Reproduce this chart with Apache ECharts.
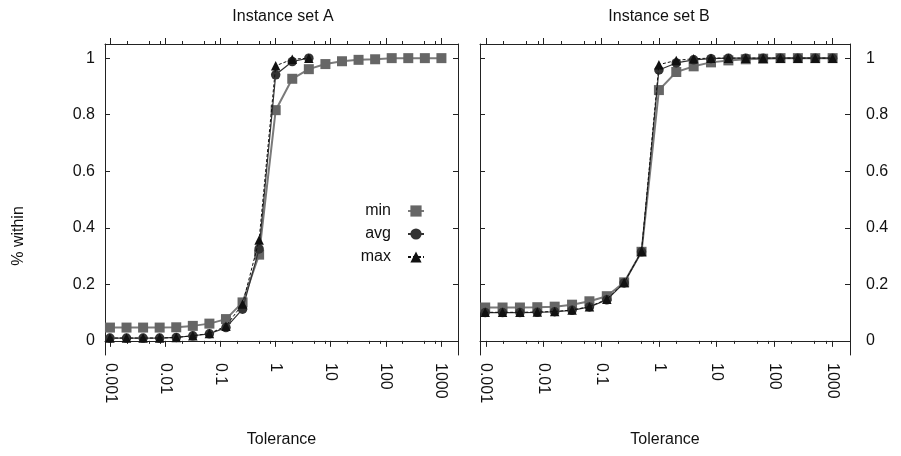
<!DOCTYPE html>
<html><head><meta charset="utf-8">
<script src="https://cdn.jsdelivr.net/npm/echarts@6/dist/echarts.min.js"></script>
<style>html,body{margin:0;padding:0;background:#fff}#c{width:901px;height:456px}</style>
</head><body><div id="c"></div><script>
// Tolerance values (powers of two)
const tolerance = [0.0009765625, 0.001953125, 0.00390625, 0.0078125, 0.015625, 0.03125, 0.0625, 0.125, 0.25, 0.5, 1, 2, 4, 8, 16, 32, 64, 128, 256, 512, 1024];
const xMajorTicks = [0.001, 0.01, 0.1, 1, 10, 100, 1000];
const xMinorTicks = [0.002, 0.005, 0.008, 0.02, 0.05, 0.08, 0.2, 0.5, 0.8, 2, 5, 8, 20, 50, 80, 200, 500, 800];
const yTicks = [0, 0.2, 0.4, 0.6, 0.8, 1];
const titles = ['Instance set A', 'Instance set B'];
const seriesNames = ['min', 'avg', 'max'];

// Instance set A
const aMin = [0.047, 0.047, 0.047, 0.047, 0.048, 0.053, 0.061, 0.077, 0.136, 0.305, 0.816, 0.927, 0.961, 0.979, 0.989, 0.994, 0.996, 1.0, 1.0, 1.0, 1.0];
const aAvg = [0.010, 0.010, 0.010, 0.010, 0.012, 0.018, 0.025, 0.047, 0.112, 0.325, 0.941, 0.988, 1.0];
const aMax = [0.010, 0.010, 0.010, 0.010, 0.012, 0.018, 0.026, 0.052, 0.130, 0.357, 0.973, 0.996, 1.0];
// Instance set B
const bMin = [0.118, 0.118, 0.118, 0.119, 0.121, 0.128, 0.140, 0.158, 0.207, 0.315, 0.887, 0.951, 0.971, 0.985, 0.992, 0.996, 0.998, 1.0, 1.0, 1.0, 1.0];
const bAvg = [0.100, 0.100, 0.100, 0.101, 0.103, 0.108, 0.120, 0.145, 0.205, 0.315, 0.958, 0.983, 0.994, 0.998, 1.0, 1.0, 1.0, 1.0, 1.0, 1.0, 1.0];
const bMax = [0.101, 0.101, 0.101, 0.102, 0.104, 0.109, 0.121, 0.147, 0.206, 0.317, 0.977, 0.992, 0.998, 1.0, 1.0, 1.0, 1.0, 1.0, 1.0, 1.0, 1.0];

const FONT = 'Liberation Sans, Arial, Helvetica, sans-serif';
const FS = 16;
const XMIN = 0.000794, XMAX = 2048;
const frameColor = '#222';

function pairs(vals) { return vals.map((v, i) => [tolerance[i], v]); }
function fmtX(v) {
  const m = {0.001:'0.001',0.01:'0.01',0.1:'0.1',1:'1',10:'10',100:'100',1000:'1000'};
  const r = Number(Number(v).toPrecision(6));
  return m[r] !== undefined ? m[r] : '';
}

const grids = [
  { left: 105, top: 44, width: 353, height: 311 },
  { left: 480, top: 44, width: 370, height: 311 }
];

const xAxes = [], yAxes = [];
grids.forEach((g, gi) => {
  const base = { gridIndex: gi, type: 'log', logBase: 10, min: XMIN, max: XMAX, splitLine: { show: false }, axisPointer: { show: false } };
  xAxes.push(Object.assign({}, base, {
    position: 'bottom',
    axisLine: { show: true, lineStyle: { color: frameColor, width: 1 } },
    axisTick: { show: true, inside: false, length: 6, customValues: xMajorTicks, lineStyle: { color: frameColor } },
    axisLabel: { show: true, customValues: xMajorTicks, rotate: -90, margin: 8, fontSize: FS, color: '#111', fontFamily: FONT, formatter: fmtX, hideOverlap: false },
    name: 'Tolerance', nameLocation: 'middle', nameGap: 77,
    nameTextStyle: { fontSize: FS, color: '#111', fontFamily: FONT }
  }));
  xAxes.push(Object.assign({}, base, {
    position: 'bottom',
    axisLine: { show: false },
    axisTick: { show: true, inside: false, length: 3, customValues: xMinorTicks, lineStyle: { color: frameColor } },
    axisLabel: { show: false }
  }));
  xAxes.push(Object.assign({}, base, {
    position: 'top',
    axisLine: { show: true, lineStyle: { color: frameColor, width: 1 } },
    axisTick: { show: true, inside: false, length: 6, customValues: xMajorTicks, lineStyle: { color: frameColor } },
    axisLabel: { show: false }
  }));
  xAxes.push(Object.assign({}, base, {
    position: 'top',
    axisLine: { show: false },
    axisTick: { show: true, inside: false, length: 3, customValues: xMinorTicks, lineStyle: { color: frameColor } },
    axisLabel: { show: false }
  }));

  const ybase = { gridIndex: gi, type: 'value', min: -0.05, max: 1.05, splitLine: { show: false }, axisPointer: { show: false } };
  yAxes.push(Object.assign({}, ybase, {
    position: 'left',
    axisLine: { show: true, lineStyle: { color: frameColor, width: 1 } },
    axisTick: { show: true, inside: true, length: 5, customValues: yTicks, lineStyle: { color: frameColor } },
    axisLabel: { show: gi === 0, customValues: yTicks, margin: 10, fontSize: FS, color: '#111', fontFamily: FONT }
  }));
  yAxes.push(Object.assign({}, ybase, {
    position: 'right',
    axisLine: { show: true, lineStyle: { color: frameColor, width: 1 } },
    axisTick: { show: true, inside: true, length: 5, customValues: yTicks, lineStyle: { color: frameColor } },
    axisLabel: { show: gi === 1, customValues: yTicks, margin: 16, fontSize: FS, color: '#111', fontFamily: FONT }
  }));
});

const styles = [
  { symbol: 'rect', symbolSize: 10, color: '#666666', line: { color: '#7a7a7a', width: 2, type: 'solid' } },
  { symbol: 'circle', symbolSize: 9.5, color: '#333333', line: { color: '#333333', width: 1.2, type: 'solid' } },
  { symbol: 'triangle', symbolSize: 9.5, color: '#111111', line: { color: '#111111', width: 1, type: [3, 2] } }
];
const dataSets = [[aMin, aAvg, aMax], [bMin, bAvg, bMax]];
const series = [];
dataSets.forEach((set, gi) => {
  set.forEach((vals, si) => {
    const st = styles[si];
    series.push({
      name: seriesNames[si], type: 'line',
      xAxisIndex: gi * 4, yAxisIndex: gi * 2,
      data: pairs(vals),
      symbol: st.symbol, symbolSize: st.symbolSize,
      showSymbol: true, animation: false,
      itemStyle: { color: st.color },
      lineStyle: st.line,
      z: 2 + si
    });
  });
});

const textStyleBase = { fontSize: FS, fill: '#111', fontFamily: FONT, align: 'center', verticalAlign: 'middle' };
const chart = echarts.init(document.getElementById('c'), null, { renderer: 'canvas' });
chart.setOption({
  backgroundColor: '#ffffff',
  animation: false,
  graphic: [
    { type: 'text', x: 283, y: 17, style: Object.assign({ text: titles[0] }, textStyleBase) },
    { type: 'text', x: 659, y: 17, style: Object.assign({ text: titles[1] }, textStyleBase) },
    { type: 'text', x: 19, y: 236, rotation: Math.PI / 2, style: Object.assign({ text: '% within' }, textStyleBase) }
  ],
  legend: {
    data: seriesNames, orient: 'vertical', align: 'right',
    right: 476, top: 203, padding: 0,
    itemWidth: 16, itemHeight: 14, itemGap: 7,
    selectedMode: false,
    textStyle: { fontSize: FS, color: '#111', fontFamily: FONT, padding: [0, 12, 0, 0] }
  },
  grid: grids,
  xAxis: xAxes,
  yAxis: yAxes,
  series: series
});
</script></body></html>
